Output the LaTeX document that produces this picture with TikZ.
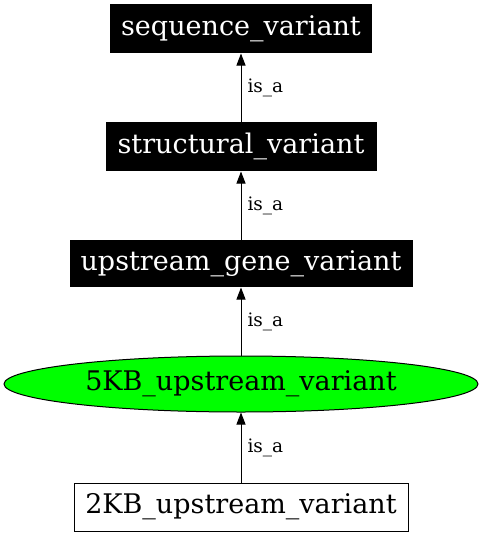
\documentclass[tikz,border=0pt]{standalone}
\usepackage{fontspec}
\setmainfont{DejaVu Serif}
\usetikzlibrary{arrows.meta,shapes.geometric}

\begin{document}
\begin{tikzpicture}[x=1pt,y=-1pt,line width=1pt,
  term/.style={rectangle,fill=black,text=white,inner sep=0pt,font=\fontsize{27}{31}\selectfont},
  leaf/.style={rectangle,draw=black,inner sep=0pt,font=\fontsize{27}{31}\selectfont},
  focus/.style={ellipse,draw=black,fill=green,inner sep=0pt,font=\fontsize{27}{31}\selectfont},
  isa/.style={-{Triangle[length=12pt,width=9pt]}},
  rel/.style={right,midway,inner sep=0pt,xshift=6pt,font=\fontsize{18.5}{22}\selectfont}]
\useasboundingbox (0,0) rectangle (483,536);

% terms
\node[term,minimum width=262pt,minimum height=49pt] (seq) at (241,28.5) {sequence\_variant};
\node[term,minimum width=271pt,minimum height=49pt] (struct) at (241,146.5) {structural\_variant};
\node[term,minimum width=343pt,minimum height=47pt] (upgene) at (241,263.5) {upstream\_gene\_variant};
\node[focus,minimum width=474pt,minimum height=56pt] (up5kb) at (241,384) {5KB\_upstream\_variant};
\node[leaf,minimum width=334pt,minimum height=48pt] (up2kb) at (241,507) {2KB\_upstream\_variant};

% is_a edges
\draw[isa] (struct) -- node[rel] {is\_a} (seq);
\draw[isa] (upgene) -- node[rel] {is\_a} (struct);
\draw[isa] (up5kb) -- node[rel] {is\_a} (upgene);
\draw[isa] (up2kb) -- node[rel] {is\_a} (up5kb);
\end{tikzpicture}
\end{document}
